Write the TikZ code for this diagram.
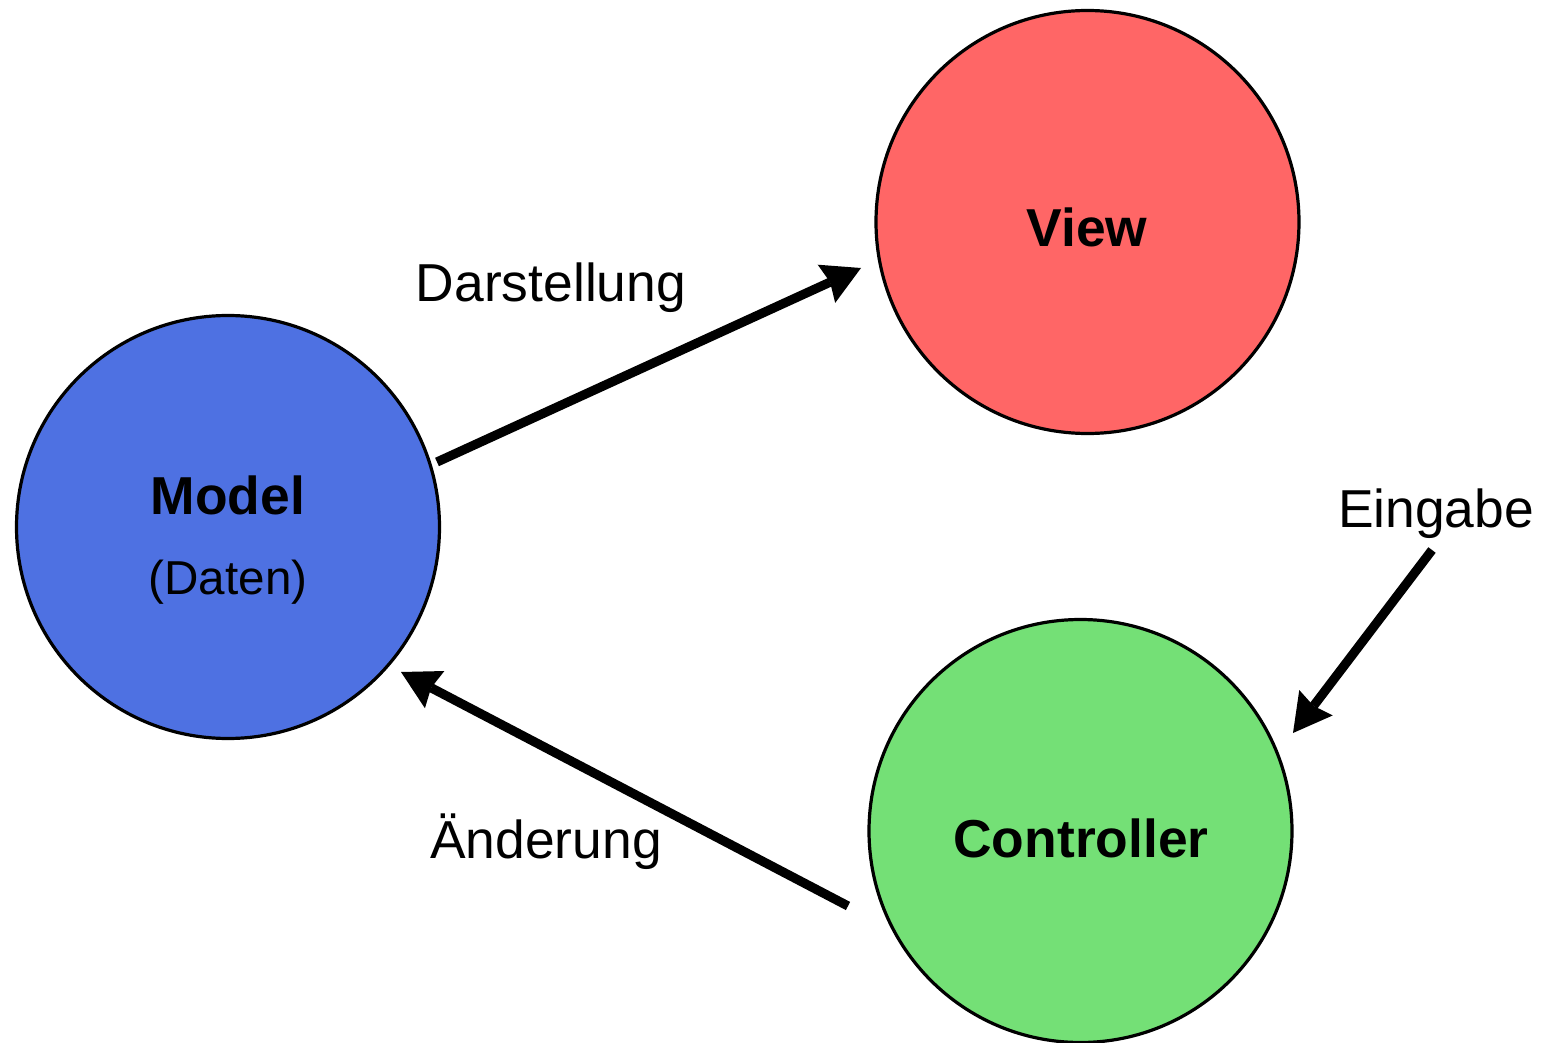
\documentclass[tikz,border=0pt]{standalone}
\usepackage{fontspec}
\setmainfont{Liberation Sans}
\usetikzlibrary{arrows.meta}
\definecolor{modelblue}{RGB}{78,113,226}
\definecolor{viewred}{RGB}{255,102,102}
\definecolor{ctrlgreen}{RGB}{116,224,118}
\begin{document}
\begin{tikzpicture}[x=0.5pt,y=-0.5pt,
  unit/.style={circle, draw=black, line width=1.6pt, minimum size=211.5pt, inner sep=0pt},
  flow/.style={line width=4.6pt, -{Stealth[length=19pt,width=21pt,inset=2pt,line width=0pt]}},
  lbl/.style={font=\fontsize{26.7}{30}\selectfont, anchor=base, inner sep=0pt},
  title/.style={lbl, font=\fontsize{26.7}{30}\selectfont\bfseries},
  note/.style={lbl, font=\fontsize{23.8}{27}\selectfont}]
\useasboundingbox (0,0) rectangle (1548,1043);

% the three parts of the pattern
\node[unit, fill=modelblue] (model) at (228,527) {};
\node[unit, fill=viewred] (view) at (1087.5,222) {};
\node[unit, fill=ctrlgreen] (ctrl) at (1080.5,831) {};

\node[title] (modelT) at (228,514) {Model};
\node[note] (modelN) at (228,594) {(Daten)};
\node[title] (viewT) at (1087,247) {View};
\node[title] (ctrlT) at (1081,857) {Controller};

% connector ends
\coordinate (darS) at (437,462);
\coordinate (darE) at (861,268);
\coordinate (aenS) at (848,906);
\coordinate (aenE) at (401,672);
\coordinate (einS) at (1432,550);
\coordinate (einE) at (1293,733);

\draw[flow] (darS) -- (darE);
\draw[flow] (aenS) -- (aenE);
\draw[flow] (einS) -- (einE);

\node[lbl] (darL) at (551,302) {Darstellung};
\node[lbl] (aenL) at (546,858) {Änderung};
\node[lbl] (einL) at (1436,527) {Eingabe};
\end{tikzpicture}
\end{document}
